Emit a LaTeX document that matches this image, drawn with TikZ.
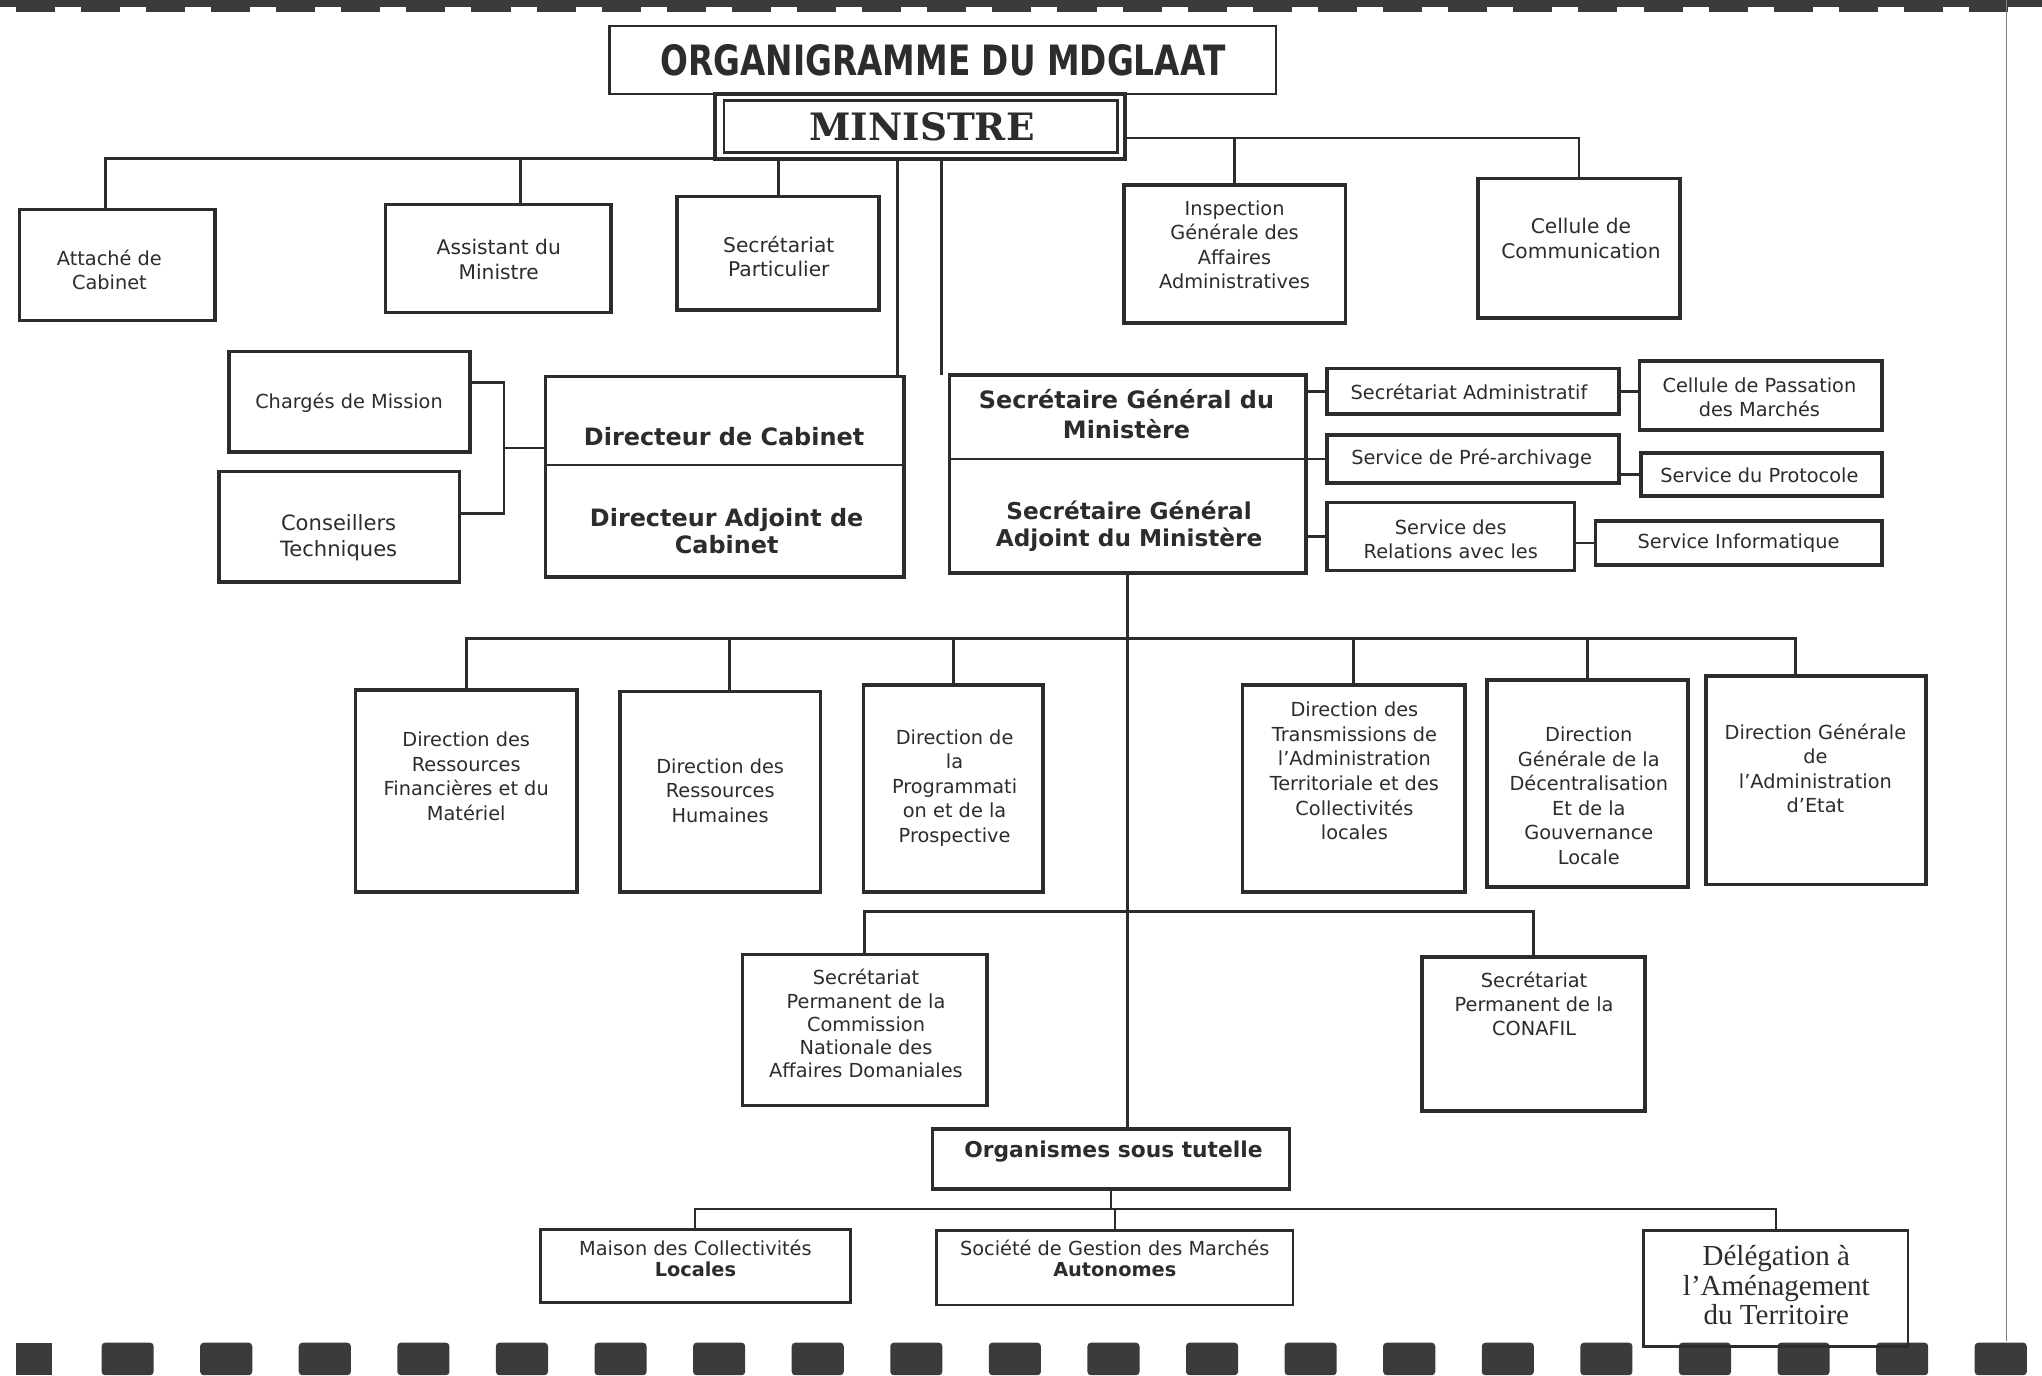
\documentclass[tikz,border=0pt]{standalone}
\usepackage{graphicx}
\usepackage{fontspec}
\setmainfont{DejaVu Sans}
\newfontfamily\slabfont{DejaVu Serif}
\newfontfamily\timesfont{Liberation Serif}
\usetikzlibrary{calc}
\definecolor{ink}{HTML}{2C2C2C}
\definecolor{scanc}{HTML}{3A3C3C}
\newcommand\pxu{0.026046cm}
\newcommand\obox[6][]{\node[box,#1,minimum width={(#5-#3)*\pxu},minimum height={(#6-#4)*\pxu}] (#2) at ({(#3+#5)/2},{(#4+#6)/2}) {};}
\tikzset{
  box/.style={draw=ink, line width=2pt, inner sep=0pt, outer sep=0pt},
  thinbox/.style={box, line width=1.4pt},
  conn/.style={draw=ink, line width=1.6pt},
  lconn/.style={draw=ink, line width=1.1pt},
  txt/.style={text=ink, align=center, inner sep=0pt, font=\fontsize{11}{13.6}\selectfont},
  ltxt/.style={txt, font=\fontsize{11}{14}\selectfont},
  mtxt/.style={txt, font=\fontsize{12}{14.8}\selectfont},
  btxt/.style={txt, font=\bfseries\fontsize{13.6}{15.6}\selectfont},
  stxt/.style={txt, font=\fontsize{11}{12}\selectfont},
}
\begin{document}
\begin{tikzpicture}[x=0.026046cm, y=-0.026046cm]
\fill[white] (0,0) rectangle (1568,1056);
\useasboundingbox (0,0) rectangle (1568,1056);
% scan edges
\fill[scanc] (0,0) rectangle (1568,5);
\foreach \i in {0,...,30} \fill[scanc] ({12+50*\i},5) rectangle ({42+50*\i},9);
\fill[scanc] (12,1031) rectangle (40,1056);
\foreach \i in {0,...,19} \fill[scanc, rounded corners=2] ({78+75.7*\i},1031) rectangle ({118+75.7*\i},1056);
\draw[gray, line width=0.7pt] (1541,0) -- (1541,1030);

% boxes
\obox[thinbox]{title}{468}{20}{980}{72}
\obox[line width=2.4pt]{mino}{549}{72}{864}{122}
\obox[thinbox]{mini}{556}{77}{858}{117}
\obox{att}{15}{161}{165}{246}
\obox{asst}{296}{157}{469}{240}
\obox{sp}{520}{151}{675}{238}
\obox{igaa}{863}{142}{1033}{248}
\obox{cc}{1135}{137}{1290}{244}
\obox{cm}{176}{270}{361}{347}
\obox{ct}{168}{362}{353}{447}
\obox{dc}{419}{289}{694}{443}
\obox{sg}{729}{288}{1003}{440}
\obox{sa}{1019}{283}{1243}{318}
\obox{cpm}{1259}{277}{1445}{330}
\obox{pa}{1019}{334}{1243}{371}
\obox{prot}{1260}{348}{1445}{381}
\obox{sr}{1019}{386}{1209}{438}
\obox{si}{1225}{400}{1445}{434}
\obox{drfm}{273}{530}{443}{685}
\obox{drh}{476}{531}{630}{685}
\obox{dpp}{663}{526}{801}{685}
\obox{dt}{954}{526}{1125}{685}
\obox{dg}{1142}{522}{1296}{681}
\obox{dgae}{1310}{519}{1479}{679}
\obox{spc}{570}{733}{758}{849}
\obox{spf}{1092}{735}{1263}{853}
\obox{org}{716}{867}{990}{913}
\obox[thinbox]{mcl}{415}{944}{653}{1000}
\obox[thinbox]{sgma}{719}{945}{993}{1002}
\obox[thinbox]{dat}{1262}{945}{1465}{1034}

% helper coordinates
\coordinate (attT) at ($(att.north)+(-9,0)$);
\coordinate (asstT) at ($(asst.north)+(17,0)$);
\coordinate (dcT) at ($(dc.north east)+(-5,0)$);
\coordinate (sgT) at ($(sg.north west)+(-6,0)$);
\coordinate (rb) at ($(mino.north east)+(0,34)$);
\coordinate (cmR) at ($(cm.north east)+(0,24)$);
\coordinate (ctR) at ($(ct.south east)+(0,-53)$);
\coordinate (dcL) at ($(dc.north west)+(0,55)$);
\coordinate (bus1) at ($(sg.south)+(0,50)$);
\coordinate (bus2) at ($(sg.south)+(0,260)$);
\coordinate (bus3) at ($(org.south)+(0,15)$);
\coordinate (dgaeT) at ($(dgae.north)+(-16,0)$);
\coordinate (drhT) at ($(drh.north)+(7,0)$);

% connectors: minister level
\draw[conn] (attT) |- (mino.south west);
\draw[conn] (asstT) -- (asstT |- mino.south);
\draw[conn] (sp.north) -- (sp.north |- mino.south);
\draw[conn] (dcT) -- (dcT |- mino.south);
\draw[conn] (sgT) -- (sgT |- mino.south);
\draw[conn] (rb) -| (cc.north);
\draw[conn] (igaa.north) -- (igaa.north |- rb);
% cabinet bracket
\draw[conn] (cmR) -- ++(26,0) |- (ctR);
\draw[conn] (dcL) -- ++(-32,0);
% dividers
\draw[conn] ($(dc.north west)+(0,68)$) -- ($(dc.north east)+(0,68)$);
\draw[conn] (sg.west |- pa.west) -- (pa.west);
% SG services
\draw[conn] (sa.west) -- (sa.west -| sg.east);
\draw[conn] (sr.west) -- (sr.west -| sg.east);
\draw[conn] (sa.east) -- (sa.east -| cpm.west);
\draw[conn] (prot.west) -- (prot.west -| pa.east);
\draw[conn] (si.west) -- (si.west -| sr.east);
% directions
\draw[conn] (sg.south) -- (sg.south |- org.north);
\draw[conn] (drfm.north) |- (bus1) -| (dgaeT);
\draw[conn] (drhT) -- (drhT |- bus1);
\draw[conn] (dpp.north) -- (dpp.north |- bus1);
\draw[conn] (dt.north) -- (dt.north |- bus1);
\draw[conn] (dg.north) -- (dg.north |- bus1);
\draw[conn] (spc.north) |- (bus2) -| (spf.north);
% organismes
\draw[lconn] (org.south) -- (bus3);
\draw[lconn] (mcl.north) |- (bus3) -| (dat.north);
\draw[lconn] (sgma.north) -- (sgma.north |- bus3);

% texts
\node[txt] (title-t) at (724,46) {\resizebox{11.3cm}{0.62cm}{\bfseries ORGANIGRAMME DU MDGLAAT}};
\node[txt] (min-t) at (708,97) {\resizebox{4.5cm}{0.56cm}{\slabfont\bfseries MINISTRE}};
\node[txt] (att-t) at (84,207) {Attaché de\\Cabinet};
\node[txt, font=\fontsize{11.5}{14}\selectfont] (asst-t) at (383,199) {Assistant du\\Ministre};
\node[txt, font=\fontsize{11.5}{14}\selectfont] (sp-t) at (598,197) {Secrétariat\\Particulier};
\node[txt, font=\fontsize{11}{13.9}\selectfont] (igaa-t) at (948,188) {Inspection\\Générale des\\Affaires\\Administratives};
\node[txt, font=\fontsize{11.5}{14}\selectfont] (cc-t) at (1214,183) {Cellule de\\Communication};
\node[txt] (cm-t) at (268,309) {Chargés de Mission};
\node[mtxt] (ct-t) at (260,413) {Conseillers\\Techniques};
\node[btxt] (dc-t1) at (556,335) {Directeur de Cabinet};
\node[btxt] (dc-t2) at (558,408) {Directeur Adjoint de\\Cabinet};
\node[btxt, font=\bfseries\fontsize{13.6}{17.4}\selectfont] (sg-t1) at (865,318) {Secrétaire Général du\\Ministère};
\node[btxt, font=\bfseries\fontsize{13.2}{15}\selectfont] (sg-t2) at (867,404) {Secrétaire Général\\Adjoint du Ministère};
\node[txt] (sa-t) at (1128,301) {Secrétariat Administratif};
\node[txt] (cpm-t) at (1351,305) {Cellule de Passation\\des Marchés};
\node[txt] (pa-t) at (1130,352) {Service de Pré-archivage};
\node[txt] (prot-t) at (1351,365) {Service du Protocole};
\node[txt] (sr-t) at (1114,414) {Service des\\Relations avec les};
\node[txt] (si-t) at (1335,417) {Service Informatique};
\node[ltxt] (drfm-t) at (358,596) {Direction des\\Ressources\\Financières et du\\Matériel};
\node[ltxt] (drh-t) at (553,607) {Direction des\\Ressources\\Humaines};
\node[ltxt] (dpp-t) at (733,605) {Direction de\\la\\Programmati\\on et de la\\Prospective};
\node[ltxt] (dt-t) at (1040,592) {Direction des\\Transmissions de\\l’Administration\\Territoriale et des\\Collectivités\\locales};
\node[ltxt] (dg-t) at (1220,611) {Direction\\Générale de la\\Décentralisation\\Et de la\\Gouvernance\\Locale};
\node[ltxt] (dgae-t) at (1394,590) {Direction Générale\\de\\l’Administration\\d’Etat};
\node[txt, font=\fontsize{11}{13.2}\selectfont] (spc-t) at (665,786) {Secrétariat\\Permanent de la\\Commission\\Nationale des\\Affaires Domaniales};
\node[txt] (spf-t) at (1178,771) {Secrétariat\\Permanent de la\\CONAFIL};
\node[btxt, font=\bfseries\fontsize{12.4}{14}\selectfont] (org-t) at (855,884) {Organismes sous tutelle};
\node[stxt] (mcl-t) at (534,966) {Maison des Collectivités\\\textbf{Locales}};
\node[stxt] (sgma-t) at (856,966) {Société de Gestion des Marchés\\\textbf{Autonomes}};
\node[txt, font=\timesfont\fontsize{16.5}{16.7}\selectfont] (dat-t) at (1364,987) {Délégation à\\l’Aménagement\\du Territoire};
\end{tikzpicture}
\end{document}
